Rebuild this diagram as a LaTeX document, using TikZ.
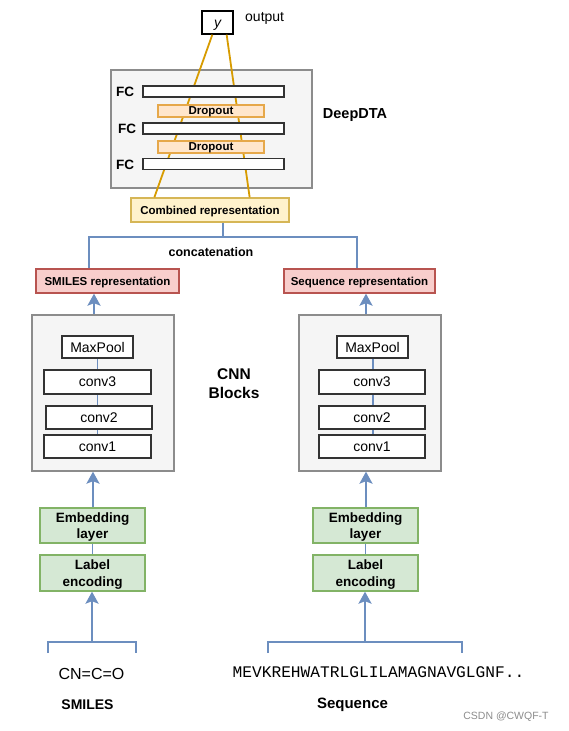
\documentclass[tikz,border=0pt]{standalone}
\usepackage{fontspec}
\setmainfont{Liberation Sans}
\setmonofont{Liberation Mono}
\usetikzlibrary{arrows.meta,calc}
\definecolor{lineblue}{HTML}{6C8EBF}
\definecolor{lineorange}{HTML}{D79B00}
\definecolor{panelfill}{HTML}{F5F5F5}
\definecolor{paneldraw}{HTML}{8C8C8C}
\definecolor{dropfill}{HTML}{FFE6CC}
\definecolor{dropdraw}{HTML}{E6A84A}
\definecolor{combfill}{HTML}{FFF2CC}
\definecolor{combdraw}{HTML}{D6B656}
\definecolor{repfill}{HTML}{F8CECC}
\definecolor{repdraw}{HTML}{B85450}
\definecolor{embfill}{HTML}{D5E8D4}
\definecolor{embdraw}{HTML}{82B366}
\tikzset{
  every node/.style={inner sep=0pt},
  oneline/.style={text depth=0pt},
  panel/.style={draw=paneldraw,fill=panelfill,line width=1.3pt},
  fcbar/.style={draw=black!80,fill=white,line width=1.3pt,minimum width=141pt,minimum height=11pt},
  dropbox/.style={oneline,draw=dropdraw,fill=dropfill,line width=1.3pt,minimum width=106pt,minimum height=12pt,font=\fontsize{11.5}{13}\selectfont\bfseries},
  repbox/.style={oneline,draw=repdraw,fill=repfill,line width=1.3pt,minimum height=24pt,font=\fontsize{11.5}{13}\selectfont\bfseries},
  layerbox/.style={oneline,draw=black!80,fill=white,line width=1.3pt,minimum height=23pt,font=\fontsize{14}{16}\selectfont},
  embbox/.style={text depth=0pt,draw=embdraw,fill=embfill,line width=1.3pt,minimum width=105pt,minimum height=35pt,align=center,font=\fontsize{13.5}{16.5}\selectfont\bfseries},
  bluearrow/.style={draw=lineblue,line width=2.8pt,-{Stealth[length=12pt,width=13pt,inset=2.5pt]}},
  blueline/.style={draw=lineblue,line width=2.8pt},
  thinblue/.style={draw=lineblue,line width=1.8pt},
  orangeline/.style={draw=lineorange,line width=1.8pt}
}
\begin{document}
\begin{tikzpicture}[x=1pt,y=-1pt]
\useasboundingbox (0,0) rectangle (568,731);
% top part
\node[text height=10pt,text depth=0pt,draw=black,fill=white,line width=1.3pt,minimum width=31pt,minimum height=23pt,font=\fontsize{14}{16}\selectfont\itshape] (ybox) at (217.5,22.5) {y};
\node[anchor=west,font=\fontsize{14}{16}\selectfont] (outlbl) at (245,18) {output};
\node[panel,minimum width=201pt,minimum height=118pt] (deep) at (211.5,129) {};
\node[font=\fontsize{14.5}{16}\selectfont\bfseries] (deeplbl) at (355,115) {DeepDTA};
\node[oneline,draw=combdraw,fill=combfill,line width=1.3pt,minimum width=158pt,minimum height=24pt,font=\fontsize{11.5}{13}\selectfont\bfseries] (comb) at (210,210) {Combined representation};
\draw[orangeline] ([xshift=11pt]ybox.south west) -- ([xshift=24pt]comb.north west);
\draw[orangeline] ([xshift=-7pt]ybox.south east) -- ([xshift=-40pt]comb.north east);
\node[fcbar] (fc1) at (213.5,91.5) {};
\node[fcbar] (fc2) at (213.5,128.5) {};
\node[fcbar] (fc3) at (213.5,164) {};
\node[dropbox] (drop1) at (211,111) {Dropout};
\node[dropbox] (drop2) at (211,147) {Dropout};
\node[oneline,font=\fontsize{13.5}{15}\selectfont\bfseries] (fclbl1) at (125,92) {FC};
\node[oneline,font=\fontsize{13.5}{15}\selectfont\bfseries] (fclbl2) at (127,129) {FC};
\node[oneline,font=\fontsize{13.5}{15}\selectfont\bfseries] (fclbl3) at (125,164.5) {FC};
% concatenation
\node[repbox,minimum width=143pt] (smirep) at (107.5,281) {SMILES representation};
\node[repbox,minimum width=151pt] (seqrep) at (359.5,281) {Sequence representation};
\coordinate (cjoin) at (223,237);
\coordinate (cleft) at (89,237);
\coordinate (cright) at (357,237);
\draw[blueline] (comb.south -| cjoin) -- (cjoin);
\draw[blueline] (cleft |- smirep.north) -- (cleft) -- (cright) -- (cright |- seqrep.north);
\node[font=\fontsize{12.5}{14}\selectfont\bfseries] (concat) at (211,252) {concatenation};
% CNN blocks
\node[panel,minimum width=142pt,minimum height=156pt] (cnnL) at (103,393) {};
\node[panel,minimum width=142pt,minimum height=156pt] (cnnR) at (370,393) {};
\node[font=\fontsize{15.5}{19}\selectfont\bfseries,align=center] (cnnlbl) at (234,384) {CNN\\Blocks};
\draw[thinblue] (97.5,347) -- (97.5,446);
\draw[thinblue] (373,347) -- (373,446);
\node[layerbox,minimum width=71pt,minimum height=22pt] (maxL) at (97.5,347) {MaxPool};
\node[layerbox,minimum width=107pt,minimum height=24pt] (conv3L) at (97.5,382) {conv3};
\node[layerbox,minimum width=106pt] (conv2L) at (99,417.5) {conv2};
\node[layerbox,minimum width=107pt] (conv1L) at (97.5,446.5) {conv1};
\node[layerbox,minimum width=71pt,minimum height=22pt] (maxR) at (372.5,347) {MaxPool};
\node[layerbox,minimum width=106pt,minimum height=24pt] (conv3R) at (372,382) {conv3};
\node[layerbox,minimum width=106pt] (conv2R) at (372,417.5) {conv2};
\node[layerbox,minimum width=106pt] (conv1R) at (372,446.5) {conv1};
\draw[bluearrow] (cnnL.north -| 94,0) -- (smirep.south -| 94,0);
\draw[bluearrow] (cnnR.north -| 366,0) -- (seqrep.south -| 366,0);
% embedding
\node[embbox] (embL) at (92.5,525.5) {Embedding\\layer};
\node[embbox,minimum height=36pt] (labL) at (92.5,573) {Label\\encoding};
\node[embbox] (embR) at (365.5,525.5) {Embedding\\layer};
\node[embbox,minimum height=36pt] (labR) at (365.5,573) {Label\\encoding};
\draw[thinblue] (embL) -- (labL);
\draw[thinblue] (embR) -- (labR);
\draw[bluearrow] (embL.north -| 93,0) -- (cnnL.south -| 93,0);
\draw[bluearrow] (embR.north -| 366,0) -- (cnnR.south -| 366,0);
% inputs
\coordinate (brL) at (92,642);
\coordinate (brR) at (365,642);
\draw[blueline] (48,653) -- (48,642) -- (136,642) -- (136,653);
\draw[blueline] (268,653) -- (268,642) -- (462,642) -- (462,653);
\draw[bluearrow] (brL) -- (labL.south -| brL);
\draw[bluearrow] (brR) -- (labR.south -| brR);
\node[font=\fontsize{16}{18}\selectfont] (smiles) at (91.5,674) {CN=C=O};
\node[font=\fontsize{14}{16}\selectfont\bfseries] (smilbl) at (87.5,705) {SMILES};
\node[font=\fontsize{16.2}{18}\selectfont\ttfamily] (seq) at (378.5,672) {MEVKREHWATRLGLILAMAGNAVGLGNF..};
\node[font=\fontsize{15}{17}\selectfont\bfseries] (seqlbl) at (352.5,705) {Sequence};
\node[font=\fontsize{10.5}{12}\selectfont,text=black!45] (mark) at (506,717) {CSDN @CWQF-T};
\end{tikzpicture}
\end{document}
